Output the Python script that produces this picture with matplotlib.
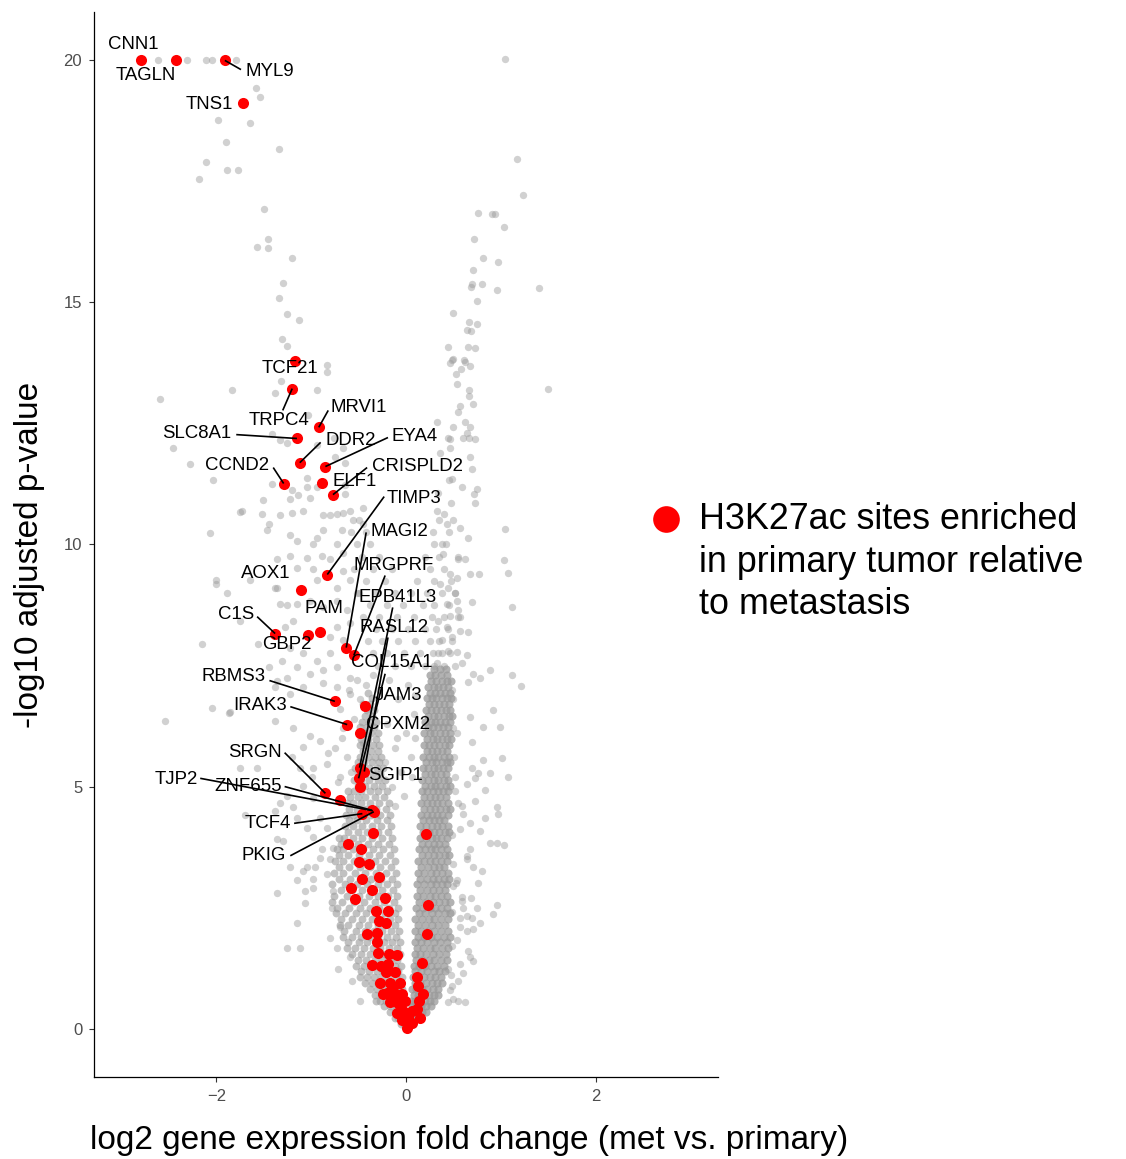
import matplotlib
matplotlib.use("Agg")
import matplotlib.pyplot as plt

plt.rcParams['font.family'] = ['Liberation Sans', 'DejaVu Sans']

# ---------------- data ----------------
# dense right arm of the volcano: rows of (y, [x ...])
right_arm_rows = [
    (0.10, [0.01, 0.04, 0.07]),
    (0.22, [0.03, 0.08, 0.12, 0.16]),
    (0.34, [0.03, 0.07, 0.12, 0.17, 0.21]),
    (0.46, [0.06, 0.11, 0.16, 0.21, 0.26]),
    (0.58, [0.05, 0.10, 0.15, 0.20, 0.25, 0.30]),
    (0.70, [0.08, 0.13, 0.19, 0.24, 0.30, 0.34]),
    (0.82, [0.06, 0.11, 0.17, 0.22, 0.28, 0.34]),
    (0.94, [0.09, 0.15, 0.21, 0.27, 0.33, 0.38]),
    (1.06, [0.07, 0.13, 0.19, 0.25, 0.31, 0.37]),
    (1.18, [0.10, 0.16, 0.22, 0.29, 0.35, 0.41]),
    (1.30, [0.08, 0.14, 0.20, 0.26, 0.33, 0.40]),
    (1.42, [0.11, 0.17, 0.24, 0.30, 0.37, 0.43]),
    (1.54, [0.09, 0.15, 0.21, 0.28, 0.35, 0.42]),
    (1.66, [0.12, 0.18, 0.25, 0.31, 0.38, 0.44]),
    (1.78, [0.09, 0.16, 0.22, 0.29, 0.36, 0.43]),
    (1.90, [0.13, 0.19, 0.26, 0.33, 0.40, 0.46]),
    (2.02, [0.10, 0.16, 0.23, 0.30, 0.37, 0.44]),
    (2.14, [0.13, 0.20, 0.27, 0.34, 0.41]),
    (2.26, [0.10, 0.17, 0.24, 0.30, 0.37, 0.44]),
    (2.38, [0.14, 0.20, 0.27, 0.34, 0.41, 0.46]),
    (2.50, [0.11, 0.18, 0.25, 0.31, 0.37, 0.43]),
    (2.62, [0.14, 0.21, 0.28, 0.35, 0.41, 0.46]),
    (2.74, [0.12, 0.18, 0.25, 0.31, 0.37, 0.43]),
    (2.86, [0.15, 0.22, 0.28, 0.35, 0.41]),
    (2.98, [0.12, 0.19, 0.26, 0.32, 0.38, 0.43]),
    (3.10, [0.15, 0.22, 0.28, 0.34, 0.40, 0.45]),
    (3.22, [0.13, 0.19, 0.26, 0.32, 0.38, 0.44]),
    (3.34, [0.16, 0.23, 0.29, 0.35, 0.40]),
    (3.46, [0.13, 0.19, 0.25, 0.31, 0.37, 0.43]),
    (3.58, [0.17, 0.23, 0.29, 0.35, 0.41, 0.45]),
    (3.70, [0.14, 0.20, 0.26, 0.31, 0.37, 0.43]),
    (3.82, [0.17, 0.23, 0.29, 0.35, 0.41]),
    (3.94, [0.15, 0.21, 0.27, 0.32, 0.37, 0.43]),
    (4.06, [0.18, 0.24, 0.29, 0.35, 0.41, 0.45]),
    (4.18, [0.15, 0.21, 0.27, 0.33, 0.38, 0.44]),
    (4.30, [0.18, 0.24, 0.30, 0.35, 0.40]),
    (4.42, [0.16, 0.22, 0.27, 0.33, 0.38, 0.44]),
    (4.54, [0.19, 0.25, 0.31, 0.36, 0.42, 0.46]),
    (4.66, [0.16, 0.22, 0.27, 0.33, 0.38, 0.44]),
    (4.78, [0.19, 0.25, 0.31, 0.36, 0.42]),
    (4.90, [0.17, 0.22, 0.28, 0.34, 0.39, 0.44]),
    (5.02, [0.20, 0.26, 0.31, 0.36, 0.42, 0.46]),
    (5.14, [0.17, 0.23, 0.29, 0.34, 0.40, 0.44]),
    (5.26, [0.20, 0.26, 0.31, 0.37, 0.42]),
    (5.38, [0.18, 0.23, 0.29, 0.34, 0.39, 0.44]),
    (5.50, [0.21, 0.27, 0.32, 0.38, 0.43, 0.46]),
    (5.62, [0.18, 0.24, 0.29, 0.34, 0.40, 0.45]),
    (5.74, [0.22, 0.27, 0.33, 0.38, 0.43]),
    (5.86, [0.19, 0.24, 0.29, 0.35, 0.41, 0.45]),
    (5.98, [0.22, 0.28, 0.33, 0.38, 0.43, 0.47]),
    (6.10, [0.19, 0.25, 0.30, 0.36, 0.41, 0.46]),
    (6.22, [0.23, 0.28, 0.34, 0.39, 0.44]),
    (6.34, [0.20, 0.26, 0.31, 0.36, 0.41, 0.46]),
    (6.46, [0.23, 0.29, 0.34, 0.40, 0.45, 0.48]),
    (6.58, [0.21, 0.26, 0.32, 0.37, 0.42, 0.46]),
    (6.70, [0.24, 0.30, 0.35, 0.40, 0.45]),
    (6.82, [0.22, 0.27, 0.32, 0.38, 0.43, 0.47]),
    (6.94, [0.25, 0.31, 0.36, 0.41, 0.46]),
    (7.06, [0.23, 0.29, 0.34, 0.39, 0.44]),
    (7.18, [0.26, 0.32, 0.38, 0.43, 0.47]),
    (7.30, [0.25, 0.31, 0.37, 0.43]),
    (7.42, [0.29, 0.36, 0.42]),
]

# dense left arm of the volcano
left_arm_rows = [
    (0.10, [-0.02, -0.05]),
    (0.22, [-0.04, -0.08, -0.12]),
    (0.34, [-0.02, -0.07, -0.12, -0.17]),
    (0.46, [-0.05, -0.11, -0.17, -0.23]),
    (0.58, [-0.03, -0.09, -0.15, -0.21, -0.27, -0.32]),
    (0.70, [-0.06, -0.13, -0.19, -0.26, -0.33]),
    (0.82, [-0.04, -0.10, -0.17, -0.24, -0.31, -0.38]),
    (0.94, [-0.07, -0.15, -0.22, -0.29, -0.36, -0.43]),
    (1.06, [-0.04, -0.11, -0.19, -0.26, -0.34, -0.41, -0.49]),
    (1.18, [-0.08, -0.16, -0.24, -0.31, -0.39, -0.47]),
    (1.30, [-0.05, -0.12, -0.20, -0.28, -0.36, -0.44, -0.53]),
    (1.42, [-0.09, -0.17, -0.25, -0.33, -0.42, -0.51]),
    (1.54, [-0.06, -0.14, -0.22, -0.30, -0.38, -0.47, -0.57]),
    (1.66, [-0.10, -0.18, -0.27, -0.35, -0.44, -0.54, -0.62]),
    (1.78, [-0.06, -0.15, -0.23, -0.32, -0.41, -0.50, -0.61]),
    (1.90, [-0.11, -0.20, -0.29, -0.38, -0.47, -0.57, -0.66]),
    (2.02, [-0.07, -0.16, -0.25, -0.34, -0.43, -0.53, -0.65]),
    (2.14, [-0.12, -0.21, -0.30, -0.40, -0.50, -0.61, -0.70]),
    (2.26, [-0.08, -0.17, -0.26, -0.36, -0.46, -0.57, -0.69]),
    (2.38, [-0.12, -0.22, -0.32, -0.42, -0.53, -0.64, -0.74]),
    (2.50, [-0.08, -0.18, -0.28, -0.38, -0.48, -0.60, -0.73]),
    (2.62, [-0.13, -0.23, -0.33, -0.44, -0.55, -0.67, -0.78]),
    (2.74, [-0.09, -0.19, -0.29, -0.39, -0.50, -0.62, -0.76]),
    (2.86, [-0.14, -0.25, -0.35, -0.46, -0.57, -0.69]),
    (2.98, [-0.10, -0.20, -0.30, -0.41, -0.52, -0.64, -0.78]),
    (3.10, [-0.15, -0.26, -0.37, -0.48, -0.59, -0.71]),
    (3.22, [-0.11, -0.21, -0.32, -0.43, -0.54, -0.66, -0.76]),
    (3.34, [-0.16, -0.27, -0.38, -0.49, -0.60, -0.71]),
    (3.46, [-0.12, -0.22, -0.33, -0.44, -0.55, -0.66, -0.75]),
    (3.58, [-0.17, -0.28, -0.39, -0.50, -0.61, -0.71]),
    (3.70, [-0.13, -0.24, -0.35, -0.45, -0.56, -0.66, -0.73]),
    (3.82, [-0.18, -0.29, -0.40, -0.51, -0.61, -0.69]),
    (3.94, [-0.15, -0.25, -0.36, -0.46, -0.56, -0.65, -0.71]),
    (4.06, [-0.19, -0.30, -0.41, -0.51, -0.61]),
    (4.18, [-0.16, -0.26, -0.36, -0.46, -0.56, -0.64]),
    (4.30, [-0.20, -0.31, -0.42, -0.52, -0.60]),
    (4.42, [-0.17, -0.27, -0.37, -0.47, -0.56, -0.63]),
    (4.54, [-0.21, -0.32, -0.42, -0.52, -0.60]),
    (4.66, [-0.18, -0.28, -0.38, -0.47, -0.56, -0.62]),
    (4.78, [-0.23, -0.33, -0.43, -0.51, -0.59]),
    (4.90, [-0.20, -0.29, -0.38, -0.47, -0.55, -0.61]),
    (5.02, [-0.25, -0.34, -0.43, -0.51]),
    (5.14, [-0.22, -0.30, -0.39, -0.47, -0.55]),
    (5.26, [-0.27, -0.35, -0.43, -0.51]),
    (5.38, [-0.24, -0.31, -0.39, -0.47, -0.54]),
    (5.50, [-0.28, -0.36, -0.44, -0.51]),
    (5.62, [-0.26, -0.33, -0.40, -0.48]),
    (5.74, [-0.30, -0.37, -0.45]),
    (5.86, [-0.28, -0.35, -0.42, -0.49]),
    (5.98, [-0.32, -0.40, -0.47]),
    (6.10, [-0.30, -0.37, -0.44]),
    (6.22, [-0.34, -0.41, -0.48]),
    (6.34, [-0.32, -0.39, -0.46]),
    (6.46, [-0.36, -0.43]),
    (6.58, [-0.34, -0.41]),
    (6.70, [-0.38, -0.45]),
    (6.82, [-0.36]),
    (6.94, [-0.40]),
]

# scattered points in the region between/above the arms
middle_rows = [
    (7.50, [-0.30, -0.12, 0.05, 0.20, 0.30, 0.40, 0.52]),
    (7.75, [-0.35, -0.20, -0.02, 0.15, 0.28, 0.38, 0.46]),
    (8.00, [-0.40, -0.25, -0.08, 0.10, 0.25, 0.35, 0.48]),
    (8.25, [-0.32, -0.15, 0.02, 0.20, 0.32, 0.44]),
    (8.50, [-0.45, -0.28, -0.10, 0.08, 0.27, 0.40, 0.55]),
    (8.75, [-0.38, -0.20, -0.03, 0.18, 0.30, 0.45]),
    (9.00, [-0.50, -0.32, -0.12, 0.05, 0.22, 0.38, 0.52]),
    (9.25, [-0.42, -0.22, 0.12, 0.30, 0.47]),
    (9.50, [-0.55, -0.35, -0.15, 0.25, 0.40]),
    (9.75, [-0.46, -0.28, 0.20, 0.35, 0.55]),
    (10.00, [-0.52, -0.38, 0.30, 0.42]),
    (10.25, [-0.58, -0.42, 0.28, 0.45]),
    (10.50, [-0.50, 0.35, 0.50]),
]

# sparse gray points (x, y)
sparse_points = [
    (-2.61, 20.0), (-2.31, 20.0), (-2.11, 20.0), (-2.05, 20.0), (-1.79, 20.0),
    (-1.58, 19.44), (-1.54, 19.24), (-1.98, 18.76), (-1.65, 18.70), (-1.90, 18.31),
    (-1.34, 18.18), (-2.11, 17.91), (-1.89, 17.73), (-1.77, 17.73), (-2.18, 17.54),
    (-1.50, 16.94), (-1.45, 16.32), (-1.57, 16.14), (-1.46, 16.12), (-1.20, 15.91),
    (-1.30, 15.41), (-1.34, 15.10), (-1.25, 14.77), (-1.13, 14.63), (-1.31, 14.24),
    (-1.26, 14.11),
    (1.04, 20.02), (1.17, 17.97), (1.23, 17.23), (0.76, 16.84), (0.91, 16.82),
    (0.94, 16.82), (1.03, 16.55), (0.72, 16.32), (0.81, 15.91), (0.97, 15.83),
    (0.71, 15.68), (0.70, 15.39), (0.69, 15.31), (0.80, 15.39), (0.96, 15.25),
    (1.40, 15.29), (0.75, 15.02), (0.50, 14.79), (0.66, 14.59), (0.75, 14.55),
    (0.64, 14.44), (0.69, 14.42), (0.44, 14.07), (0.65, 14.09), (0.73, 14.05),
    (0.50, 13.84), (0.61, 13.82), (0.49, 13.82), (0.46, 13.74), (0.62, 13.78),
    (0.58, 13.62), (0.68, 13.68), (0.53, 13.53), (0.54, 13.31), (0.66, 13.20),
    (0.66, 13.06), (1.50, 13.22),
    (0.57, 12.87), (0.71, 12.91), (0.55, 12.73), (0.33, 12.54), (0.62, 12.54),
    (0.64, 12.31), (0.66, 12.19), (0.73, 12.17), (0.46, 12.17), (0.60, 12.21),
    (0.50, 12.42), (0.68, 12.42), (0.44, 12.19), (0.46, 12.00), (0.36, 11.88),
    (0.68, 11.80), (0.70, 11.55), (0.45, 11.34), (0.49, 11.36), (0.59, 11.18),
    (0.75, 11.14), (0.72, 11.05), (0.34, 11.07), (0.47, 10.85), (0.73, 10.85),
    (0.40, 10.64), (0.33, 10.70), (1.04, 10.33), (0.43, 10.43), (0.57, 10.35),
    (0.65, 10.14), (0.38, 10.02), (0.39, 9.81), (0.55, 9.71), (0.62, 9.71),
    (1.03, 9.67), (1.08, 9.42), (0.68, 9.40), (0.77, 9.40), (0.46, 9.40),
    (0.36, 9.19), (0.54, 9.30), (0.44, 9.11), (0.52, 8.99), (0.70, 8.82),
    (1.12, 8.70), (0.54, 8.84), (0.43, 8.78), (0.55, 8.64), (0.57, 8.50),
    (0.46, 8.53), (0.34, 8.43), (0.43, 8.29), (0.57, 8.22), (0.65, 8.20),
    (0.49, 8.08), (0.38, 8.02), (0.44, 7.81), (0.64, 7.71), (0.54, 7.77),
    (0.34, 7.75), (0.33, 7.56), (0.59, 7.56),
    (0.71, 7.33), (0.78, 7.25), (0.89, 7.40), (1.12, 7.31), (1.21, 7.07),
    (0.65, 7.15), (0.92, 6.59), (0.68, 6.43), (0.81, 6.22), (0.99, 6.22),
    (0.54, 6.10), (0.70, 5.91), (1.01, 5.58), (0.81, 5.54), (0.70, 5.39),
    (0.89, 5.27), (1.08, 5.19), (0.76, 5.27),
    (0.96, 4.57), (0.97, 4.44), (0.83, 4.34), (0.78, 4.09), (0.89, 3.84),
    (0.96, 3.84), (1.03, 3.80), (0.68, 3.72), (0.71, 3.33), (0.80, 3.26),
    (0.76, 3.00), (0.59, 2.71), (0.69, 2.69), (0.96, 2.56), (0.92, 2.36),
    (0.70, 2.29), (0.78, 2.19), (0.64, 2.02), (0.71, 2.05), (0.65, 1.61),
    (0.68, 1.47), (0.55, 0.99), (0.62, 0.54), (0.57, 1.34), (0.55, 0.58),
    (0.46, 0.79), (0.54, 1.82), (0.57, 2.09), (0.60, 2.50), (0.54, 3.06),
    (0.64, 3.51), (0.57, 4.13), (0.68, 4.24), (0.60, 4.44), (0.55, 4.65),
    (0.73, 4.71), (0.83, 4.92), (0.64, 5.06), (0.73, 5.17),
    (0.59, 4.59), (0.64, 3.57), (0.50, 2.95), (0.59, 2.64), (0.64, 2.33),
    (0.75, 2.50), (0.57, 2.29), (0.71, 1.40), (0.60, 1.14), (0.50, 0.62),
    (0.44, 0.54), (0.49, 0.89), (0.44, 1.24),
    (0.48, 1.70), (0.50, 3.40), (0.49, 4.00), (0.51, 5.60), (0.50, 6.80),
    (0.52, 4.90), (0.48, 2.40), (0.50, 6.20), (0.53, 3.00), (0.47, 1.10),
    (0.52, 5.20), (0.49, 7.00),
    (-2.59, 13.00), (-1.84, 13.20), (-1.38, 13.12), (-0.94, 13.20), (-0.83, 13.70),
    (-0.83, 13.57), (-1.32, 13.37), (-2.46, 12.00), (-2.28, 11.67), (-2.04, 11.34),
    (-1.41, 12.29), (-1.33, 12.15), (-1.25, 12.09), (-0.94, 12.05), (-1.03, 12.67),
    (-0.76, 12.21), (-0.66, 12.00), (-0.64, 11.69), (-0.75, 11.80), (-1.41, 11.26),
    (-1.20, 11.12), (-1.14, 11.03), (-1.04, 11.38), (-1.04, 11.18), (-0.94, 11.18),
    (-1.01, 10.97), (-1.22, 10.95), (-0.64, 11.22), (-0.64, 11.05), (-1.51, 10.91),
    (-1.73, 10.70), (-1.52, 10.64), (-1.20, 10.66), (-1.09, 10.70), (-1.44, 10.43),
    (-1.33, 10.60), (-0.88, 10.60), (-0.80, 10.60), (-0.66, 10.66), (-0.56, 10.50),
    (-0.45, 10.43),
    (-1.75, 10.68), (-2.07, 10.23), (-1.47, 10.29), (-1.22, 10.19), (-1.15, 10.08),
    (-0.94, 10.14), (-0.88, 10.29), (-0.98, 10.02), (-0.73, 10.02), (-0.68, 10.29),
    (-0.59, 10.70), (-0.73, 10.64), (-0.45, 10.76), (-1.04, 9.73), (-0.89, 9.77),
    (-0.80, 9.71), (-0.66, 9.83), (-1.22, 9.77), (-1.36, 9.71), (-1.15, 9.52),
    (-0.98, 9.50), (-0.94, 9.26), (-0.66, 9.46), (-0.59, 9.26), (-0.73, 9.11),
    (-1.36, 9.11), (-1.26, 8.74), (-1.15, 8.78), (-1.01, 8.84), (-0.88, 8.70),
    (-0.73, 8.84), (-0.62, 8.64), (-0.52, 8.99), (-2.00, 9.26), (-1.89, 8.99),
    (-1.65, 9.26), (-1.75, 8.43), (-2.15, 7.95), (-1.19, 8.43), (-1.28, 8.29),
    (-0.73, 8.29), (-0.59, 8.37), (-0.80, 8.08), (-0.66, 8.02), (-1.22, 7.87),
    (-1.09, 7.75), (-0.94, 7.60), (-0.80, 7.75), (-1.15, 7.46), (-1.01, 7.33),
    (-0.88, 7.40), (-0.73, 7.46), (-0.59, 7.25), (-0.88, 7.13), (-1.09, 7.05),
    (-0.73, 7.05), (-0.59, 6.92), (-1.22, 6.92), (-1.36, 7.19), (-1.44, 7.46),
    (-2.54, 6.36), (-1.86, 6.53), (-1.38, 6.36), (-2.05, 6.63), (-1.19, 6.20),
    (-1.01, 6.05), (-1.09, 5.81), (-0.91, 5.95), (-1.20, 5.60), (-1.12, 5.39),
    (-0.98, 5.39), (-0.83, 5.47), (-0.82, 5.70), (-0.99, 5.19), (-0.70, 5.19),
    (-1.26, 4.81), (-1.09, 5.02), (-0.98, 4.77), (-1.19, 4.57), (-1.33, 4.65),
    (-1.15, 4.36), (-0.91, 4.36), (-1.04, 4.15), (-0.83, 4.15), (-1.30, 3.88),
    (-0.98, 3.95), (-0.77, 3.74), (-0.91, 3.53), (-1.04, 3.33), (-1.22, 3.33),
    (-0.83, 3.20), (-1.15, 3.06), (-0.98, 2.91), (-1.36, 2.81),
    (-2.00, 9.19), (-1.87, 6.51), (-1.75, 5.39), (-1.57, 5.39), (-1.70, 4.42),
    (-1.38, 4.50), (-1.36, 3.91), (-1.26, 7.25), (-1.38, 7.05), (-1.31, 7.60),
    (-1.33, 8.78), (-1.56, 7.95), (-1.38, 9.11),
    (-1.26, 1.67), (-1.12, 1.67), (-1.15, 2.19), (-1.07, 2.85), (-1.09, 3.26),
    (-0.98, 3.10), (-0.96, 3.33), (-1.07, 2.60), (-0.89, 3.72), (-0.80, 3.51),
    (-0.77, 2.85), (-0.78, 2.50), (-0.80, 1.88), (-0.73, 1.67), (-0.72, 1.24),
    (-0.59, 1.47), (-0.57, 0.99), (-0.49, 0.58), (-0.70, 2.09),
    (-0.62, 5.60), (-0.68, 6.00), (-0.55, 6.40), (-0.70, 6.60), (-0.48, 6.80),
    (-0.60, 7.00), (-0.52, 7.20), (-0.42, 7.10), (-0.66, 6.20), (-0.75, 5.80),
    (-0.45, 5.90), (-0.58, 5.30), (-0.72, 5.10), (-0.40, 6.60), (-0.35, 7.30),
    (-0.28, 7.00),
    (-0.15, 5.00), (-0.05, 5.30), (0.05, 5.60), (-0.12, 5.80), (0.00, 6.10),
    (-0.20, 6.30), (0.08, 6.50), (-0.08, 6.80), (0.02, 7.10), (-0.18, 7.20),
    (0.10, 6.90), (-0.10, 6.00), (0.06, 5.20), (-0.22, 5.50), (0.10, 6.00),
    (-0.02, 4.80), (-0.12, 4.60),
]

# red points: H3K27ac-enriched genes (labeled)
genes = ["CNN1", "TAGLN", "MYL9", "TNS1", "TCF21", "TRPC4", "MRVI1", "SLC8A1",
         "DDR2", "EYA4", "CCND2", "ELF1", "CRISPLD2", "TIMP3", "AOX1", "PAM",
         "GBP2", "C1S", "MAGI2", "MRGPRF", "RBMS3", "JAM3", "IRAK3", "CPXM2",
         "EPB41L3", "RASL12", "COL15A1", "SGIP1", "SRGN", "ZNF655", "TJP2",
         "TCF4", "PKIG"]
gene_lfc = [-2.79, -2.43, -1.91, -1.72, -1.17, -1.20, -0.92, -1.15,
            -1.12, -0.85, -1.29, -0.89, -0.77, -0.83, -1.11, -0.91,
            -1.03, -1.38, -0.63, -0.55, -0.75, -0.43, -0.62, -0.49,
            -0.49, -0.44, -0.50, -0.49, -0.85, -0.36, -0.35,
            -0.46, -0.34]
gene_p = [20.0, 20.0, 20.0, 19.11, 13.80, 13.22, 12.42, 12.19,
          11.69, 11.61, 11.26, 11.28, 11.03, 9.38, 9.07, 8.20,
          8.14, 8.16, 7.87, 7.71, 6.76, 6.67, 6.28, 6.10,
          5.39, 5.31, 5.17, 5.00, 4.86, 4.51, 4.50,
          4.44, 4.48]

# red points: unlabeled enriched genes
red_x = [-0.70, -0.35, -0.61, -0.47, -0.50, -0.39, -0.46, -0.28, -0.58, -0.36,
         -0.54, -0.22, -0.32, -0.19, -0.28, -0.21, -0.41, -0.31, -0.31, -0.30,
         -0.18, -0.09, -0.36, -0.26, -0.19, -0.21, -0.12, -0.27, -0.17, -0.06,
         -0.20, -0.12, -0.04, -0.17, -0.08, -0.03, 0.02, 0.01, -0.04, 0.06,
         -0.14, -0.24, -0.10, -0.01,
         0.21, 0.23, 0.22, 0.17, 0.12, 0.13, 0.18, 0.14, 0.12, 0.06, 0.15]
red_y = [4.73, 4.05, 3.82, 3.72, 3.45, 3.39, 3.08, 3.14, 2.91, 2.87,
         2.67, 2.69, 2.42, 2.42, 2.23, 2.19, 1.96, 1.98, 1.78, 1.57,
         1.55, 1.51, 1.32, 1.30, 1.34, 1.16, 1.16, 0.95, 0.95, 0.95,
         0.74, 0.72, 0.72, 0.54, 0.52, 0.37, 0.23, 0.02, 0.17, 0.12,
         0.85, 0.72, 0.33, 0.58,
         4.01, 2.56, 1.96, 1.36, 1.07, 0.89, 0.72, 0.58, 0.41, 0.37, 0.21]

# label text positions (data coords) and connector starts
label_pos = {
    "CNN1": (-2.88, 20.33), "TAGLN": (-2.74, 19.69), "MYL9": (-1.44, 19.77),
    "TNS1": (-2.07, 19.09), "TCF21": (-1.22, 13.64), "TRPC4": (-1.34, 12.56),
    "MRVI1": (-0.50, 12.83), "SLC8A1": (-2.21, 12.29), "DDR2": (-0.58, 12.15),
    "EYA4": (0.09, 12.23), "CCND2": (-1.78, 11.63), "ELF1": (-0.54, 11.30),
    "CRISPLD2": (0.12, 11.61), "TIMP3": (0.08, 10.95), "MAGI2": (-0.07, 10.27),
    "AOX1": (-1.48, 9.40), "MRGPRF": (-0.13, 9.57), "EPB41L3": (-0.09, 8.90),
    "PAM": (-0.87, 8.68), "C1S": (-1.79, 8.55), "GBP2": (-1.26, 7.93),
    "RASL12": (-0.13, 8.29), "COL15A1": (-0.15, 7.56), "JAM3": (-0.08, 6.88),
    "CPXM2": (-0.08, 6.28), "SGIP1": (-0.11, 5.23), "RBMS3": (-1.82, 7.27),
    "IRAK3": (-1.54, 6.67), "SRGN": (-1.59, 5.70), "TJP2": (-2.42, 5.14),
    "ZNF655": (-1.67, 5.00), "TCF4": (-1.46, 4.24), "PKIG": (-1.50, 3.57),
}
segment_start = {
    "MYL9": (-1.74, 19.81), "TRPC4": (-1.30, 12.77), "MRVI1": (-0.82, 12.77),
    "SLC8A1": (-1.79, 12.27), "DDR2": (-0.90, 12.11), "EYA4": (-0.19, 12.21),
    "CCND2": (-1.40, 11.59), "CRISPLD2": (-0.41, 11.59), "TIMP3": (-0.23, 10.99),
    "MAGI2": (-0.42, 10.25), "MRGPRF": (-0.22, 9.36), "EPB41L3": (-0.14, 8.70),
    "RASL12": (-0.19, 8.08), "COL15A1": (-0.22, 7.33), "C1S": (-1.57, 8.51),
    "RBMS3": (-1.44, 7.19), "IRAK3": (-1.22, 6.65), "SRGN": (-1.28, 5.70),
    "TJP2": (-2.17, 5.17), "ZNF655": (-1.28, 5.00), "TCF4": (-1.18, 4.24),
    "PKIG": (-1.22, 3.57),
}

legend_label = "H3K27ac sites enriched\nin primary tumor relative\nto metastasis"
x_title = "log2 gene expression fold change (met vs. primary)"
y_title = "-log10 adjusted p-value"
x_ticks = [-2, 0, 2]
y_ticks = [0, 5, 10, 15, 20]


def flatten(rows):
    xs_out, ys_out = [], []
    for yv, xs in rows:
        for xv in xs:
            xs_out.append(xv)
            ys_out.append(yv)
    return xs_out, ys_out


rx, ry = flatten(right_arm_rows)
lx, ly = flatten(left_arm_rows)
gx, gy = flatten(middle_rows)
for xv, yv in sparse_points:
    gx.append(xv)
    gy.append(yv)

# ---------------- figure ----------------
W, H = 1126, 1159
fig = plt.figure(figsize=(W / 100, H / 100), dpi=100)
ax = fig.add_axes([94 / W, 1 - 1077 / H, (718 - 94) / W, (1077 - 12) / H])

ax.scatter(gx, gy, s=28, color="#999999", alpha=0.45, linewidths=0, zorder=2)
ax.scatter(lx, ly, s=32, color="#999999", alpha=0.6, linewidths=0, zorder=2)
ax.scatter(rx, ry, s=34, color="#999999", alpha=0.75, linewidths=0, zorder=2)
ax.scatter(red_x, red_y, s=64, color="#ff0000", linewidths=0, zorder=3)
red_h = ax.scatter(gene_lfc, gene_p, s=64, color="#ff0000", linewidths=0, zorder=3,
                   label=legend_label)

for g, xv, yv in zip(genes, gene_lfc, gene_p):
    tx, ty = label_pos[g]
    if g in segment_start:
        sx, sy = segment_start[g]
        ax.plot([sx, xv], [sy, yv], color="black", lw=1.2, zorder=4,
                solid_capstyle="butt")
    ax.text(tx, ty, g, ha="center", va="center", fontsize=13.4, color="black",
            zorder=5)

ax.set_xlim(-3.29, 3.29)
ax.set_ylim(-1.0, 21.0)
ax.set_xticks(x_ticks)
ax.set_yticks(y_ticks)
ax.spines["top"].set_visible(False)
ax.spines["right"].set_visible(False)
for sp in ("left", "bottom"):
    ax.spines[sp].set_linewidth(0.9)
    ax.spines[sp].set_color("black")
ax.tick_params(axis="both", length=3.5, width=0.8, color="#333333",
               labelcolor="#4d4d4d", labelsize=12)
ax.tick_params(axis="y", pad=5)
ax.tick_params(axis="x", pad=5)

fig.text(469 / W, 1 - 1140 / H, x_title, ha="center", va="center", fontsize=24)
fig.text(30 / W, 1 - 555 / H, y_title, ha="center", va="center", fontsize=24,
         rotation=90)

leg = fig.legend(handles=[red_h], labels=[legend_label], loc="center left",
                 bbox_to_anchor=(648 / W, 1 - 562 / H), frameon=False,
                 fontsize=25.8, markerscale=2.4, handlelength=1.0,
                 handleheight=1.1, handletextpad=0.42, borderpad=0,
                 borderaxespad=0)
for t in leg.get_texts():
    t.set_linespacing(1.27)
# put the key next to the first line of the label (as in ggplot)
for col in leg._legend_handle_box.get_children():
    for entry in col.get_children():
        entry.align = "top"

fig.savefig("out.png", dpi=100)
